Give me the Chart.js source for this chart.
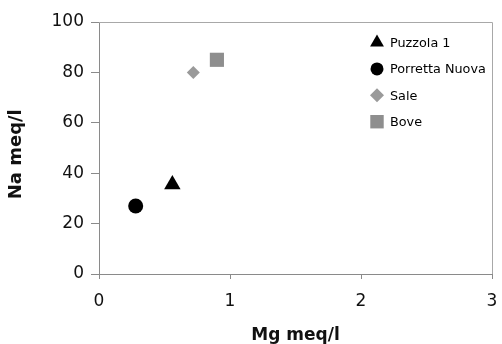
<!DOCTYPE html>
<html>
<head>
<meta charset="utf-8">
<script src="https://cdn.jsdelivr.net/npm/chart.js@4/dist/chart.umd.min.js"></script>
<style>
  html, body { margin:0; padding:0; background:#fff; }
  #wrap { width:502px; height:344px; }
</style>
</head>
<body>
<div id="wrap"><canvas id="c" width="502" height="344"></canvas></div>
<script>
// data
const seriesNames = ['Puzzola 1', 'Porretta Nuova', 'Sale', 'Bove'];
const mgValues    = [0.56, 0.28, 0.72, 0.90];   // x, Mg meq/l
const naValues    = [35.5, 27, 80, 85];         // y, Na meq/l
const xTicks      = [0, 1, 2, 3];
const yTicks      = [0, 20, 40, 60, 80, 100];

// marker look per series
const STYLES = [
  { shape:'triangle', color:'#000000', r:9.5, lr:8 },
  { shape:'circle',   color:'#000000', r:7.5, lr:6.5 },
  { shape:'rectRot',  color:'#9a9a9a', r:6.5, lr:7 },
  { shape:'rect',     color:'#8e8e8e', r:10,  lr:9.5 }
];
const AXIS = '#8a8a8a';
const FONT = '"DejaVu Sans", Verdana, sans-serif';

const datasets = seriesNames.map((name, i) => ({
  label: name,
  data: [{ x: mgValues[i], y: naValues[i] }],
  pointStyle: STYLES[i].shape,
  pointRadius: STYLES[i].r,
  pointHoverRadius: STYLES[i].r,
  backgroundColor: STYLES[i].color,
  borderColor: STYLES[i].color,
  borderWidth: 0
}));

// legend drawn inside the plot, top right
const insideLegend = {
  id: 'insideLegend',
  afterDraw(chart) {
    const ctx = chart.ctx;
    ctx.save();
    ctx.font = '12.8px ' + FONT;
    ctx.textBaseline = 'middle';
    seriesNames.forEach((name, i) => {
      const y = 42.5 + i * 26.4, mx = 377;
      ctx.fillStyle = STYLES[i].color;
      ctx.strokeStyle = STYLES[i].color;
      Chart.helpers.drawPoint(ctx, { pointStyle: STYLES[i].shape, radius: STYLES[i].lr, rotation: 0, borderWidth: 0 }, mx, y);
      ctx.fillStyle = '#000';
      ctx.fillText(name, 390, y + 1);
    });
    ctx.restore();
  }
};

// gray frame on top and right of the plot
const frame = {
  id: 'frame',
  beforeDatasetsDraw(chart) {
    const { ctx, chartArea: a } = chart;
    ctx.save();
    ctx.strokeStyle = '#a8a8a8';
    ctx.lineWidth = 1;
    ctx.beginPath();
    ctx.moveTo(a.left, a.top + 0.5);
    ctx.lineTo(a.right + 0.5, a.top + 0.5);
    ctx.lineTo(a.right + 0.5, a.bottom);
    ctx.stroke();
    ctx.restore();
  }
};

new Chart(document.getElementById('c'), {
  type: 'scatter',
  data: { datasets },
  options: {
    responsive: false,
    animation: false,
    devicePixelRatio: 1,
    layout: { padding: { top: 22, right: 9, bottom: 0, left: 0 } },
    plugins: { legend: { display: false }, tooltip: { enabled: false } },
    scales: {
      x: {
        type: 'linear', min: 0, max: 3,
        afterBuildTicks: s => { s.ticks = xTicks.map(v => ({ value: v })); },
        afterFit: s => { s.height = 70; s.paddingLeft = 0; s.paddingRight = 0; },
        grid: { drawOnChartArea: false, drawTicks: true, tickLength: 5, color: AXIS },
        border: { color: AXIS, width: 1 },
        ticks: { color: '#111', font: { family: FONT, size: 17 }, padding: 12 },
        title: { display: true, text: 'Mg meq/l', color: '#111', font: { family: FONT, size: 17, weight: 'bold', lineHeight: 1 }, padding: { top: 0, bottom: 0 } }
      },
      y: {
        type: 'linear', min: 0, max: 100,
        afterBuildTicks: s => { s.ticks = yTicks.map(v => ({ value: v })); },
        afterFit: s => { s.width = 99; s.paddingTop = 0; s.paddingBottom = 0; },
        grid: { drawOnChartArea: false, drawTicks: true, tickLength: 8, color: AXIS },
        border: { color: AXIS, width: 1 },
        ticks: { color: '#111', font: { family: FONT, size: 17 }, padding: 7 },
        // two trailing spaces nudge the rotated title down a little, as in the source
        title: { display: true, text: 'Na meq/l  ', color: '#111', font: { family: FONT, size: 18, weight: 'bold' }, padding: { top: 6, bottom: 0 } }
      }
    }
  },
  plugins: [frame, insideLegend]
});
</script>
</body>
</html>
